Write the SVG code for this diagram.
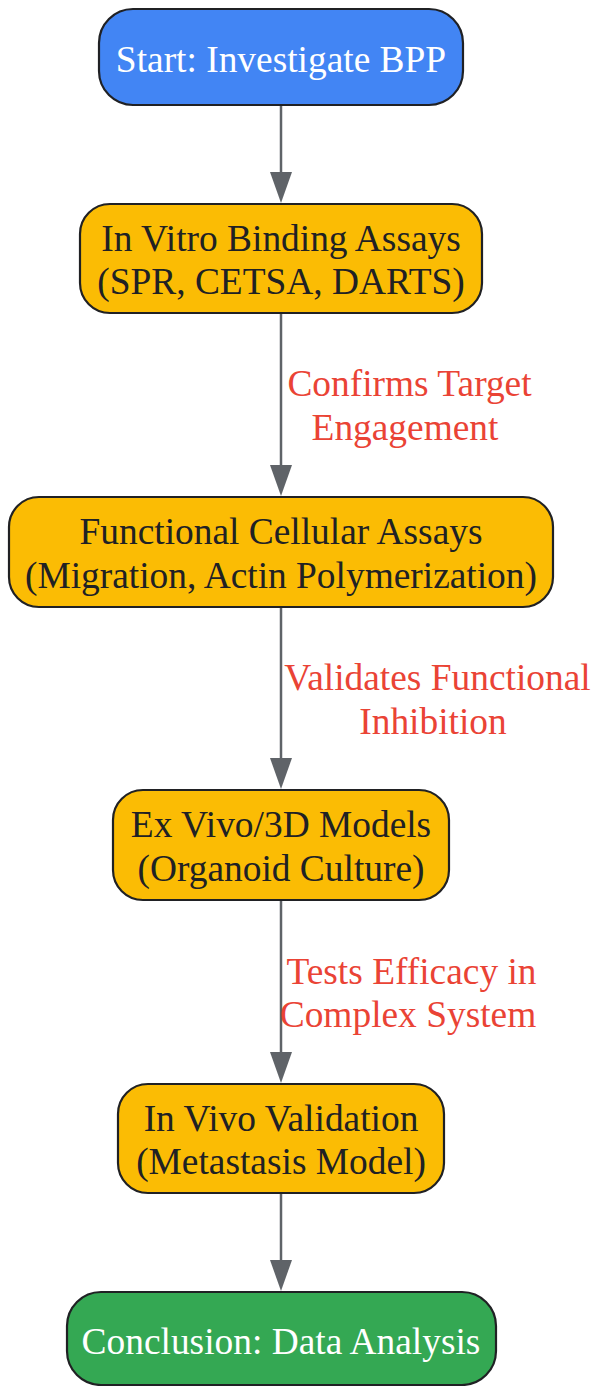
<svg xmlns="http://www.w3.org/2000/svg" width="593" height="1386" viewBox="0 0 593 1386">
<style>
.node rect{stroke:#202124;stroke-width:2.2}
.t{font-family:"Liberation Serif","Times New Roman",serif;font-size:37.4px;text-anchor:middle;fill:#202124}
.w{fill:#ffffff}
.lbl{font-family:"Liberation Serif","Times New Roman",serif;font-size:37.4px;text-anchor:middle;fill:#EA4335}
.edge{stroke:#5f6368;stroke-width:2.5;fill:none}
.head{fill:#5f6368}
</style>
<rect width="593" height="1386" fill="#ffffff"/>
<g id="connectors">
<line class="edge" x1="281" y1="105" x2="281" y2="176"/>
<polygon class="head" points="270,172 292,172 281,203"/>
<line class="edge" x1="281" y1="313" x2="281" y2="469"/>
<polygon class="head" points="270,465 292,465 281,496"/>
<line class="edge" x1="281" y1="607" x2="281" y2="762"/>
<polygon class="head" points="270,758 292,758 281,789"/>
<line class="edge" x1="281" y1="900" x2="281" y2="1056"/>
<polygon class="head" points="270,1052 292,1052 281,1083"/>
<line class="edge" x1="281" y1="1193" x2="281" y2="1264"/>
<polygon class="head" points="270,1260 292,1260 281,1291"/>
<text class="lbl" x="409.5" y="396">Confirms Target</text>
<text class="lbl" x="405" y="440">Engagement</text>
<text class="lbl" x="437.5" y="690">Validates Functional</text>
<text class="lbl" x="433" y="734">Inhibition</text>
<text class="lbl" x="411.5" y="984">Tests Efficacy in</text>
<text class="lbl" x="408" y="1027">Complex System</text>
</g>
<g id="start" class="node">
<rect x="99" y="9" width="364" height="96" rx="34" fill="#4285F4"/>
<text class="t w" x="281" y="72">Start: Investigate BPP</text>
</g>
<g id="invitro" class="node">
<rect x="80" y="204" width="402" height="109" rx="30" fill="#FBBC04"/>
<text class="t" x="281" y="251">In Vitro Binding Assays</text>
<text class="t" x="281" y="294">(SPR, CETSA, DARTS)</text>
</g>
<g id="functional" class="node">
<rect x="9" y="497" width="544" height="110" rx="30" fill="#FBBC04"/>
<text class="t" x="281" y="544">Functional Cellular Assays</text>
<text class="t" x="281" y="588">(Migration, Actin Polymerization)</text>
</g>
<g id="exvivo" class="node">
<rect x="113" y="790" width="336" height="110" rx="30" fill="#FBBC04"/>
<text class="t" x="281" y="837">Ex Vivo/3D Models</text>
<text class="t" x="281" y="881">(Organoid Culture)</text>
</g>
<g id="invivo" class="node">
<rect x="118" y="1084" width="326" height="109" rx="30" fill="#FBBC04"/>
<text class="t" x="281" y="1131">In Vivo Validation</text>
<text class="t" x="281" y="1174">(Metastasis Model)</text>
</g>
<g id="conclusion" class="node">
<rect x="67" y="1292" width="429" height="93" rx="34" fill="#34A853"/>
<text class="t w" x="281" y="1354">Conclusion: Data Analysis</text>
</g>
</svg>
